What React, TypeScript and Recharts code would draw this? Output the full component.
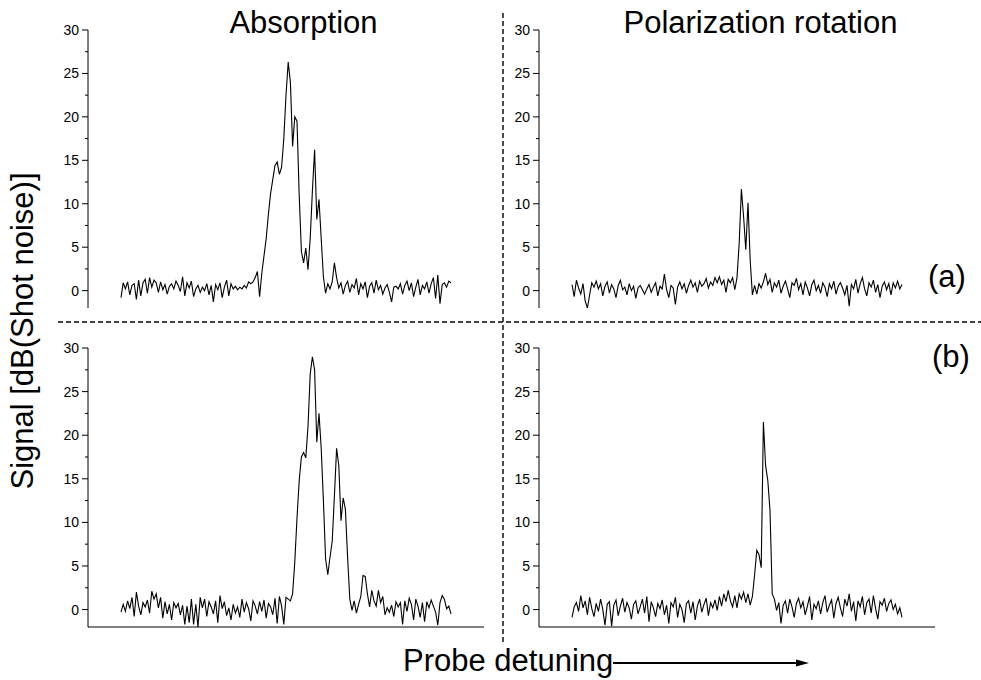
import React from 'react';
import { LineChart, Line, XAxis, YAxis } from 'recharts';

// ---- Absorption (a) : top-left ----
const absANoiseL = [
  -0.8, 0.9, 0.2, 1.0, -0.5, 0.6, 0.8, -1.0, 1.2, -0.6,
  0.9, 1.3, -0.3, 1.5, 0.4, 1.2, 0.9, -0.2, 1.0, 0.1,
  0.7, -0.4, 0.5, 0.8, 0.2, 1.1, 0.6, -0.1, 1.6, -0.6,
  0.9, 0.3, 1.1, -0.7, 0.2, 0.6, -0.2, 0.4, 0.0, 0.8,
  -0.5, 0.6, -1.3, 0.7, 0.1, 0.9, -0.8, 0.4, 1.2, -0.6,
  0.8, 0.2, 0.5, 0.1, 0.4, 0.2, 0.6, 0.3, 1.0, 0.8,
];
const absAPeak = [
  1.0, 1.5, 2.2, -0.7, 2.0, 4.0, 6.0, 8.8, 11.2, 12.8,
  14.4, 14.8, 13.4, 14.2, 17.5, 22.5, 26.3, 24.0, 16.6, 20.0,
  19.5, 11.0, 4.5, 3.2, 4.9, 2.4, 6.0, 11.5, 16.2, 8.2,
  10.5, 6.0, 1.6, -0.3, 0.8, 0.2, 1.0, 3.2, 1.5, 0.3,
];
const absANoiseR = [
  0.9, -0.4, 0.6, 1.1, -0.2, 0.7, 0.3, 1.4, -0.5, 0.8,
  0.2, 1.0, -0.8, 0.5, 0.9, -0.3, 1.2, 0.1, 0.6, -0.4,
  0.3, 0.7, -0.2, -1.3, 0.4, 0.5, 0.2, 0.8, -0.4, 0.6,
  1.1, 0.0, 0.9, -0.7, 0.4, 1.3, -0.5, 0.6, 0.2, 1.0,
  -0.3, 0.8, 1.5, -0.9, 1.8, -1.5, 0.7, 0.9, 0.4, 1.1,
  0.9,
];

// ---- Absorption (b) : bottom-left ----
const absBNoiseL = [
  -0.3, 0.6, -0.2, 1.0, 0.1, 1.4, -0.8, 2.0, 0.4, -0.6,
  0.8, 0.3, 1.1, -0.4, 2.1, 1.2, 1.8, 0.2, 1.4, -1.0,
  0.9, -0.5, 0.6, -1.2, 0.8, 0.2, 0.7, -0.6, 0.5, -1.7,
  0.4, -1.5, 1.2, -1.7, 0.6, -2.0, 1.4, 0.2, 1.2, -0.8,
  0.9, 0.3, -0.5, 1.0, -1.5, 1.6, 0.1, 0.9, -0.7, 0.2,
  -1.2, 0.6, -0.4, 0.3, -0.9, 1.2, -0.3, 0.8, 0.1, -1.3,
  1.0, 0.4, -0.5, 0.9, -0.2, 1.1, -1.0, 0.7, 0.3, -0.6,
  1.3, -1.6, 1.5, 0.4, -1.7, 1.4,
];
const absBPeak = [
  1.2, 1.0, 1.8, 5.5, 10.5, 14.8, 17.5, 18.0, 17.4, 21.0,
  27.0, 29.0, 27.5, 19.2, 22.5, 18.5, 12.5, 5.8, 4.0, 6.0,
  7.8, 13.0, 18.5, 16.5, 10.2, 12.8, 11.5, 6.0, 1.2, -0.1,
  1.0, -0.4, 0.6, 1.5, 3.9, 3.8, 1.8, 0.3, 2.2, 1.0,
];
const absBNoiseR = [
  0.4, 2.2, 0.8, 1.5, -0.6, 0.2, -0.3, 0.5, -0.8, 0.9,
  0.3, 0.8, -1.7, 1.0, -0.2, 1.3, 0.6, -1.2, 1.2, 0.4,
  -0.9, 0.8, -1.4, 0.9, 0.2, 1.1, 0.4, -0.3, -1.8, 0.8,
  1.6, 1.2, 0.1, 0.4, -0.5,
];

// ---- Polarization rotation (a) : top-right ----
const rotANoiseL = [
  0.7, -0.7, 1.2, 0.3, -0.4, 0.8, -1.2, -2.0, -0.5, 0.9,
  0.4, 1.1, 0.2, 0.8, -0.6, 0.5, 1.0, -0.3, 0.7, 0.2,
  -0.8, 0.6, 1.2, 0.1, 0.4, -0.5, 0.8, 0.0, 0.5, -0.9,
  0.3, 0.6, 0.1, -0.4, 0.2, 0.7, -0.2, 0.4, 0.9, -0.6,
  0.5, 0.2, 1.9, 0.1, -0.8, 0.6, 0.3, -1.6, 0.4, 1.0,
  0.2, 0.8, -0.3, 0.6, 1.2, 0.4, 0.9, -0.2, 1.1, 0.5,
  0.8, 1.4, 0.3, 1.0, 0.6, 1.5, 0.9, 1.6, 0.7, 1.2,
  -0.2, 1.3,
];
const rotAPeak = [0.9, 1.5, 0.1, 1.5, 5.5, 11.7, 8.5, 4.7, 10.1, 3.5, -0.5];
const rotANoiseR = [
  0.6, -0.4, 0.8, 0.3, 1.0, 2.0, 0.7, 1.3, -0.2, 0.9,
  0.4, 1.2, -0.3, 0.5, 1.1, 0.2, -0.8, 0.9, 0.6, 1.4,
  0.1, 0.8, -0.5, 1.0, 0.3, -0.6, 0.7, 1.2, 0.0, 0.6,
  -0.3, 0.9, 0.4, -0.7, 0.8, 0.2, 1.1, -0.4, 0.5, 0.9,
  0.3, -0.5, 0.6, -1.8, 0.7, 0.2, 1.3, -0.3, 0.8, 1.5,
  0.2, -0.6, 0.9, 0.4, 1.2, -0.2, 0.7, -0.8, 0.5, 1.0,
  0.1, 0.8, -0.5, 0.9, 0.3, 1.1, 0.2, 0.7,
];

// ---- Polarization rotation (b) : bottom-right ----
const rotBNoiseL = [
  -0.9, 0.3, 0.8, -0.2, 1.6, 0.2, 1.0, -0.6, 1.4, 0.1,
  -0.8, 0.7, -0.2, 1.2, 0.0, -1.8, 0.6, 0.9, -1.9, 0.5,
  1.1, -0.7, 0.4, 1.3, -0.3, 0.8, 0.2, -1.1, 0.6, 1.0,
  -0.5, 0.3, 1.2, -0.4, 1.5, -1.4, 0.9, 0.2, -0.8, 0.7,
  0.1, 1.1, -0.6, 0.5, -1.6, 0.8, 0.3, 1.4, -0.9, 0.6,
  0.0, -1.5, 0.7, 1.0, -0.4, 0.9, -1.2, 0.4, 1.2, -0.3,
  0.6, 1.3, -0.7, 0.8, 0.2, 1.1, -0.1, 1.5, 0.4, 1.8,
  0.9, 2.2, 1.0, 0.3, 1.6, 0.2, 1.8, 1.2, 2.0, 0.8,
];
const rotBPeak = [1.8, 0.5, 1.5, 4.0, 6.8, 6.3, 4.8, 21.5, 16.5, 14.8, 11.4, 1.8, 1.2, -0.1];
const rotBNoiseR = [
  0.8, -1.6, 0.5, 1.0, -0.4, 1.2, 0.3, -0.9, 0.7, 1.3,
  0.2, 0.9, -0.6, 0.4, 1.5, -1.2, 0.6, 0.1, 1.0, -0.5,
  0.8, 1.6, -0.3, 0.5, 1.1, -1.0, 0.7, 1.4, 0.2, -0.8,
  1.2, 0.4, 1.8, -0.2, 0.9, -1.3, 1.0, 0.3, 1.5, -0.6,
  0.8, 1.2, -0.4, 1.6, 0.1, -1.1, 0.9, 0.5, 1.3, -0.2,
  0.7, 1.1, 0.0, 0.6, -0.5, 0.2, -0.9,
];

const xTicks = [0, 15, 30, 45, 60, 75, 90, 105, 120, 135, 150];
const yTicks = [0, 2.5, 5, 7.5, 10, 12.5, 15, 17.5, 20, 22.5, 25, 27.5, 30];

const titles = ['Absorption', 'Polarization rotation'];
const panelLabels = ['(a)', '(b)'];
const yLabel = 'Signal [dB(Shot noise)]';
const xLabel = 'Probe detuning';

const toRows = (vals: number[]) => vals.map((v, i) => ({ i, v }));

const absA = toRows([...absANoiseL, ...absAPeak, ...absANoiseR]);
const absB = toRows([...absBNoiseL, ...absBPeak, ...absBNoiseR]);
const rotA = toRows([...rotANoiseL, ...rotAPeak, ...rotANoiseR]);
const rotB = toRows([...rotBNoiseL, ...rotBPeak, ...rotBNoiseR]);

const FONT = '"Liberation Sans", Arial, Helvetica, sans-serif';
const AXIS_X = 88;

const YTick = (props: any) => {
  const { y, payload } = props;
  const v = payload.value;
  const major = v % 5 === 0;
  return (
    <g>
      <line x1={AXIS_X - (major ? 6 : 3)} x2={AXIS_X} y1={y} y2={y} stroke="#000" strokeWidth={1} />
      {major ? (
        <text x={AXIS_X - 9} y={y} dy={5} textAnchor="end" fontSize={14} fontFamily={FONT} fill="#000">
          {v}
        </text>
      ) : null}
    </g>
  );
};

function Panel({ data, left, top, showX }: { data: { i: number; v: number }[]; left: number; top: number; showX: boolean }) {
  return (
    <div style={{ position: 'absolute', left, top }}>
      <LineChart width={500} height={330} data={data} margin={{ top: 30, right: 16, bottom: showX ? 0 : 22, left: 0 }}>
        <XAxis
          dataKey="i"
          type="number"
          domain={[-15, 165]}
          ticks={xTicks}
          hide={!showX}
          height={21}
          tick={false}
          tickSize={4}
          axisLine={{ stroke: '#000' }}
          tickLine={{ stroke: '#000' }}
          allowDataOverflow
        />
        <YAxis
          type="number"
          domain={[-2, 30]}
          ticks={yTicks}
          interval={0}
          width={88}
          tickLine={false}
          axisLine={{ stroke: '#000' }}
          tick={(p: any) => <YTick {...p} />}
          allowDataOverflow
        />
        <Line dataKey="v" type="linear" stroke="#000" strokeWidth={1.1} dot={false} isAnimationActive={false} />
      </LineChart>
    </div>
  );
}

export default function App() {
  return (
    <div style={{ position: 'absolute', left: 0, top: 0, width: 981, height: 680, background: '#fff', overflow: 'hidden' }}>
      <Panel data={absA} left={0} top={0} showX={false} />
      <Panel data={rotA} left={451} top={0} showX={false} />
      <Panel data={absB} left={0} top={318} showX={true} />
      <Panel data={rotB} left={451} top={318} showX={true} />
      <svg width={981} height={680} style={{ position: 'absolute', left: 0, top: 0, pointerEvents: 'none' }}>
        <line x1={58} y1={322} x2={981} y2={322} stroke="#000" strokeWidth={1.4} strokeDasharray="5 3" />
        <line x1={503} y1={13} x2={503} y2={642} stroke="#000" strokeWidth={1.4} strokeDasharray="5 3" />
        <g fontFamily={FONT} fontSize={31} fill="#000">
          <text x={303.5} y={33} textAnchor="middle">{titles[0]}</text>
          <text x={760.5} y={33} textAnchor="middle">{titles[1]}</text>
          <text x={928} y={287}>{panelLabels[0]}</text>
          <text x={932} y={367}>{panelLabels[1]}</text>
          <text transform="translate(33,331) rotate(-90)" textAnchor="middle">{yLabel}</text>
          <text x={403} y={671}>{xLabel}</text>
        </g>
        <line x1={613} y1={663} x2={798} y2={663} stroke="#000" strokeWidth={2} />
        <polygon points="796,659.5 809,663 796,666.5" fill="#000" />
      </svg>
    </div>
  );
}
